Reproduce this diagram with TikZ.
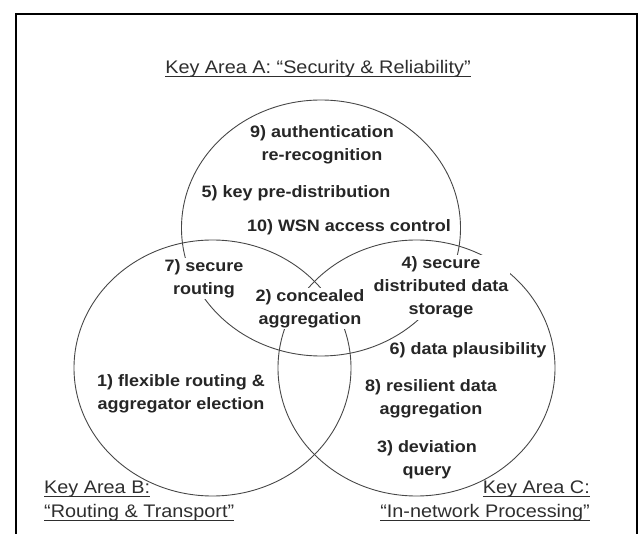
\documentclass[tikz,border=0pt]{standalone}
\usepackage{fontspec}
\setmainfont{Liberation Sans}[FakeStretch=1.09]
\usepackage{tikz}
\usetikzlibrary{positioning}

% underline that sits just under the baseline
\newcommand{\keyline}[1]{\setbox0\hbox{#1}\rlap{\rule[-3.6pt]{\wd0}{1.2pt}}\box0}

\begin{document}
\begin{tikzpicture}[x=1pt,y=-1pt,
  venn/.style={draw=black!72,line width=0.9pt},
  item/.style={font=\bfseries\fontsize{16.5}{23}\selectfont,text=black!85,
    align=center,fill=white,inner sep=1.5pt},
  area/.style={font=\fontsize{18.2}{24}\selectfont,text=black!82,inner sep=0pt}]
  \useasboundingbox (0,0) rectangle (638,534);

  % frame, open at the bottom
  \draw[line width=2pt] (16.3,534) -- (16.3,14.3) -- (636.5,14.3) -- (636.5,534);

  % the three key areas
  \coordinate (A) at (321,228);
  \coordinate (B) at (212.5,368);
  \coordinate (C) at (416.5,368);
  \draw[venn] (A) ellipse [x radius=139.5pt, y radius=128pt];
  \draw[venn] (B) ellipse [x radius=138.5pt, y radius=128pt];
  \draw[venn] (C) ellipse [x radius=138.5pt, y radius=128pt];

  % area titles
  \node[area] (areaA) at (318,69) {\keyline{Key Area A: “Security \& Reliability”}};
  \node[area,align=left,anchor=west] (areaB) at (44,501)
    {\keyline{Key Area B:}\\\keyline{“Routing \& Transport”}};
  \node[area,align=right,anchor=east] (areaC) at (590,501)
    {\keyline{Key Area C:}\\\keyline{“In-network Processing”}};

  % research topics (white boxes cut the lines behind them)
  \node[item] (auth)  at (322,145)   {9) authentication\\re-recognition};
  \node[item] (keypd) at (296,193)   {5) key pre-distribution};
  \node[item] (wsnac) at (349,227)   {10) WSN access control};
  \node[item] (secrt) at (204,278.5) {7) secure\\routing};
  \node[item] (conc)  at (310,308.5) {2) concealed\\aggregation};
  \node[item] (store) at (441,287.5) {4) secure\\distributed data\\storage};
  \node[item] (plaus) at (468,350)   {6) data plausibility};
  \node[item] (resil) at (431,399)   {8) resilient data\\aggregation};
  \node[item] (devq)  at (427,459.5) {3) deviation\\query};
  \node[item] (flex)  at (181,394)   {1) flexible routing \&\\aggregator election};
\end{tikzpicture}
\end{document}
